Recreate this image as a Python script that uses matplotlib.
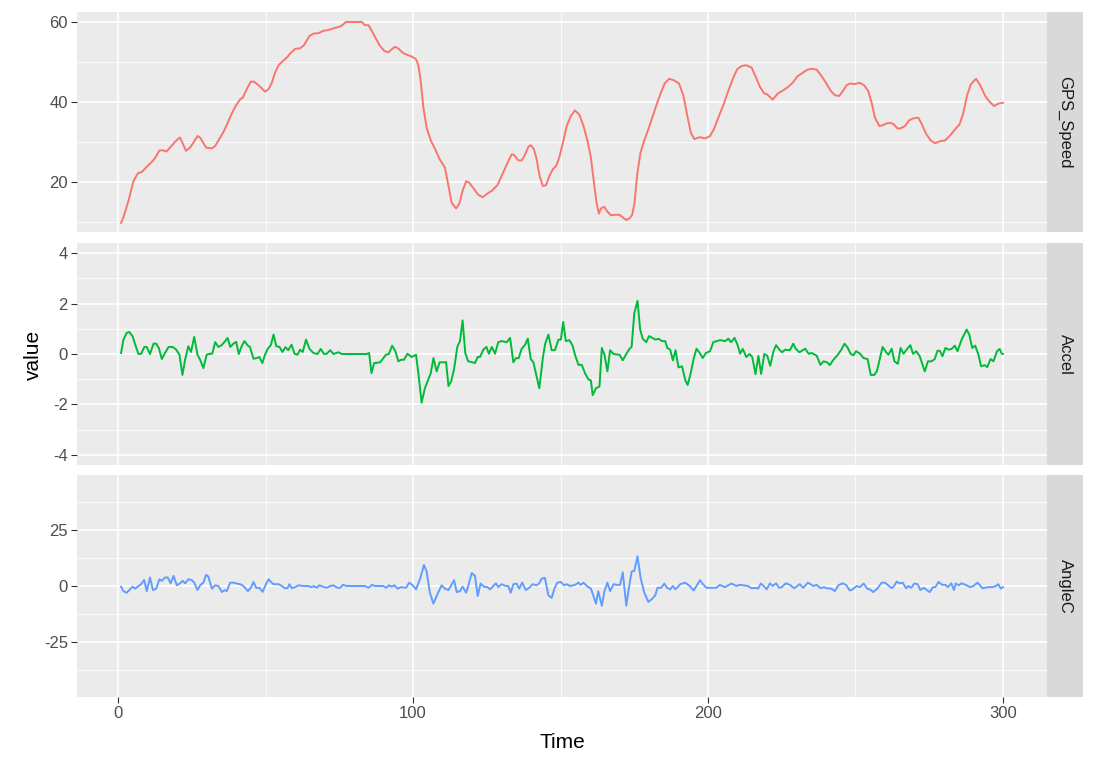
import matplotlib
matplotlib.use("Agg")
import matplotlib.pyplot as plt

# GPS_Speed readings (time, value)
gps_time = [1, 1.8, 3.5, 5.2, 6.7, 8, 9.7, 11.4, 12.5, 14, 15.4, 16.3, 17.6, 19, 20.5, 21,
            23, 24.4, 25.5, 26.9, 27.8, 29.8, 31.7, 32.9, 34.6, 35.9, 37.4, 38.5, 40, 41.4,
            42.3, 43.6, 45, 46.1, 47.9, 49.8, 51, 52.1, 53.2, 54.4, 55.8, 57.2, 58.3, 60,
            61.7, 63, 64.9, 66.2, 67.9, 69.6, 71.3, 73, 75.3, 76, 77.2, 82.6, 83.7, 84.9,
            86, 87.5, 88.8, 90.2, 91.6, 92.8, 93.9, 95, 96.5, 97.9, 99.5, 101, 101.8,
            102.6, 103.5, 104.6, 106, 107.5, 109, 110.8, 112, 113.1, 114.6, 115.7, 116.8,
            118, 119.1, 120.7, 122.1, 123.6, 125.2, 126.7, 128.6, 130, 131.8, 133.4, 134.2,
            135.7, 136.9, 138, 139.1, 139.9, 141, 141.9, 142.9, 144, 145.1, 146.2, 147.4,
            148.5, 149.6, 150.8, 152.1, 153.5, 154.9, 156.4, 157.8, 159.2, 160.3, 161.4,
            162.3, 163, 163.7, 164.8, 166, 167.1, 168.6, 170, 171.2, 172.3, 173.4, 174.3,
            175.1, 176, 177.1, 178.3, 179.6, 181.1, 182.6, 183.9, 185.3, 186.8, 188.5,
            190.2, 191.7, 193.1, 194.2, 195.4, 197.1, 199, 200.7, 202, 203.5, 205.2,
            206.9, 208.6, 209.9, 211.4, 212.9, 214.8, 216.3, 217.6, 219, 220.1, 221.9,
            223.8, 225.5, 227.2, 228.7, 230.3, 231.7, 233.7, 235.4, 236.8, 238.2, 240,
            241.6, 243, 244.5, 245.6, 247, 248.1, 249.8, 251.5, 252.9, 254.3, 255.5,
            256.6, 258.1, 259.4, 260.3, 261.9, 263, 264.2, 265.3, 266.8, 268.2, 269.6,
            271.3, 272.4, 273.9, 275.5, 277, 278.7, 280.4, 282.3, 283.8, 285.3, 286.6,
            287.8, 289.1, 290.9, 292.3, 294, 295.4, 297, 298.5, 300]
gps_value = [9.8, 11.2, 15.3, 20.2, 22.2, 22.5, 23.8, 25, 26, 27.9, 27.9, 27.6, 28.6, 29.8,
             30.9, 31.1, 27.8, 28.6, 29.8, 31.5, 31.1, 28.6, 28.4, 29, 31.1, 32.8, 35.2,
             37.1, 39.2, 40.7, 41.1, 43.2, 45.1, 45.1, 44, 42.6, 43.2, 44.8, 47.3, 49.2,
             50.2, 51.1, 52.1, 53.3, 53.4, 54.2, 56.5, 57.1, 57.2, 57.8, 58, 58.4, 58.9,
             59.2, 60, 60, 59.2, 59.2, 57.8, 55.7, 54, 52.8, 52.4, 53.2, 53.8, 53.4, 52.3,
             51.8, 51.4, 50.7, 49.2, 45.2, 38.6, 33.6, 30.4, 28.2, 25.7, 23.6, 19, 14.8,
             13.4, 14.6, 17.8, 20.2, 19.8, 18.2, 16.8, 16.2, 17.1, 17.8, 19.2, 21.5, 24.4,
             26.9, 26.8, 25.4, 25.4, 26.9, 28.8, 29.2, 28.2, 25.7, 21.5, 19, 19.2, 21.5,
             23.2, 24, 26.2, 29.8, 34, 36.5, 37.9, 36.8, 34, 30.1, 26.1, 19.4, 14.4, 12.1,
             13.4, 13.8, 12.5, 11.7, 11.8, 11.8, 11.1, 10.5, 10.9, 11.8, 14.8, 21.9, 27.3,
             30.2, 32.8, 36.1, 39.4, 42.1, 44.6, 45.8, 45.4, 44.6, 41.5, 36.1, 32.3, 30.7,
             31.2, 30.9, 31.5, 33.2, 36.1, 39.2, 42.8, 46.1, 48.2, 49, 49.2, 48.6, 46.1,
             43.8, 42.2, 41.9, 40.6, 42.2, 42.9, 43.8, 44.8, 46.4, 47.1, 48.1, 48.3, 48.1,
             46.8, 44.8, 42.8, 41.7, 41.5, 42.6, 44.2, 44.6, 44.5, 44.8, 44.2, 42.8, 39.8,
             36.1, 34, 34.2, 34.6, 34.8, 34.4, 33.4, 33.4, 34, 35.4, 35.9, 36.1, 34.6,
             32.1, 30.4, 29.7, 30.2, 30.4, 31.8, 33.2, 34.4, 37.3, 41.5, 44.4, 45.8, 44.2,
             41.5, 40.1, 39, 39.6, 39.8]

# Accel readings (time, value)
accel_time = [1, 1.8, 2.9, 3.8, 4.9, 5.8, 6.9, 7.8, 8.9, 9.7, 10.8, 12, 12.9, 13.8, 14.8,
              15.9, 17.1, 18.5, 19.7, 20.8, 21.8, 22.7, 23.8, 24.7, 25.8, 26.9, 27.8, 28.9,
              30, 31.2, 31.9, 32.9, 34, 35.1, 36.3, 37.1, 38, 39.1, 40, 40.9, 41.9, 42.8,
              44, 44.7, 45.9, 47, 47.9, 48.9, 49.8, 50.7, 51.8, 52.7, 53.6, 54.7, 55.7,
              56.7, 57.7, 58.8, 59.8, 60.8, 61.7, 62.6, 63.7, 64.9, 66.2, 67.6, 68.7, 69.8,
              70.7, 71.9, 73, 74.7, 75.8, 84.3, 85.1, 85.9, 86.8, 88.8, 89.7, 90.8, 91.8,
              92.9, 94, 95, 95.9, 96.9, 98.1, 99.5, 101, 101.8, 102.9, 104, 105.2, 106,
              106.9, 108, 109, 110.5, 111.2, 112, 112.9, 113.9, 115, 115.9, 116.8, 117.7,
              118.7, 119.9, 121, 121.9, 122.7, 123.8, 124.9, 125.7, 126.7, 127.8, 128.9,
              130, 131.8, 132.9, 134, 134.9, 135.8, 136.8, 138, 138.9, 139.9, 140.8, 141.9,
              142.8, 144, 144.8, 145.9, 147, 148.1, 149.3, 150.1, 150.9, 151.8, 153, 154.1,
              154.9, 156.1, 157.2, 158.3, 159.4, 160.3, 160.9, 162, 163.2, 164, 164.9,
              165.9, 166.8, 168, 170, 171.1, 172.5, 173.4, 174.1, 175, 176.1, 177, 177.9,
              179.1, 180, 181.1, 182.2, 183.3, 184.4, 185.5, 186.2, 187.2, 188.1, 189, 190,
              191.2, 192.3, 193.1, 194, 195.2, 196.1, 197.2, 198.2, 199.3, 200.7, 201.8,
              204.1, 205.8, 206.9, 207.8, 209, 210, 210.9, 211.8, 213, 214.1, 215, 216.1,
              217.1, 218, 219.1, 220.1, 221.1, 222.2, 223.1, 224.2, 225.1, 226.2, 227.8,
              228.9, 229.8, 231, 232.1, 233, 234.1, 235.2, 236.9, 238.1, 239.2, 240.4,
              241.3, 242.4, 244, 245.2, 246.3, 247.4, 248.4, 249.3, 250.2, 251.6, 252.7,
              254.1, 255.2, 256.4, 257.3, 259.2, 260.4, 261.2, 262.3, 263.2, 264.4, 265.3,
              266.3, 267.6, 268.6, 269.5, 270.6, 271.8, 273.5, 274.6, 275.8, 276.9, 277.8,
              278.6, 279.5, 280.5, 281.7, 282.6, 283.7, 284.6, 286, 287.7, 288.6, 289.6,
              290.6, 291.7, 292.6, 293.8, 294.7, 295.8, 296.8, 298, 298.9, 299.6, 300]
accel_value = [0.04, 0.57, 0.84, 0.87, 0.7, 0.37, 0, 0.01, 0.28, 0.28, 0, 0.41, 0.41, 0.24,
               -0.2, 0.04, 0.28, 0.28, 0.17, -0.03, -0.83, -0.23, 0.31, 0.08, 0.68, -0.03,
               -0.23, -0.56, -0.03, 0.01, 0.01, 0.47, 0.28, 0.35, 0.51, 0.64, 0.28, 0.41,
               0.48, 0, 0.31, 0.51, 0.33, 0.28, -0.19, -0.16, -0.12, -0.36, -0.03, 0.2,
               0.36, 0.77, 0.31, 0.28, 0.08, 0.27, 0.15, 0.37, 0.01, -0.03, 0.17, 0.08,
               0.57, 0.2, 0.04, 0, 0.2, 0, 0.01, 0.15, 0, 0.07, 0, 0, 0.04, -0.76, -0.36,
               -0.33, -0.2, -0.03, 0, 0.33, 0.11, -0.29, -0.23, -0.23, 0.01, -0.12, -0.03,
               -0.76, -1.93, -1.36, -1, -0.76, -0.16, -0.69, -0.33, -0.33, -0.32, -1.27,
               -1.09, -0.6, 0.28, 0.51, 1.33, 0.04, -0.29, -0.32, -0.36, -0.12, -0.12, 0.17,
               0.28, 0.01, 0.28, 0.01, 0.47, 0.51, 0.47, 0.64, -0.33, -0.16, -0.17, 0.2,
               0.37, 0.61, -0.2, -0.33, -0.89, -1.36, -0.16, 0.41, 0.77, 0.15, 0.15, 0.57,
               0.57, 1.27, 0.51, 0.55, 0.33, -0.03, -0.43, -0.43, -0.76, -1, -1.05, -1.63,
               -1.36, -1.29, 0.24, -0.03, -0.69, 0.15, 0, -0.03, -0.25, 0.04, 0.21, 0.28,
               1.61, 2.11, 0.97, 0.6, 0.47, 0.71, 0.64, 0.57, 0.6, 0.51, 0.51, 0.24, 0.17,
               -0.25, 0.15, -0.53, -0.49, -1.03, -1.23, -0.83, -0.16, 0.21, 0.04, -0.16,
               0.04, 0.11, 0.47, 0.55, 0.51, 0.61, 0.47, 0.64, 0.37, 0.01, 0.2, -0.12, 0,
               -0.12, -0.8, -0.07, -0.79, 0, -0.07, -0.47, 0.11, 0.35, 0.17, 0.07, 0.17,
               0.15, 0.41, 0.2, 0.07, 0.15, 0.21, 0.01, 0.04, -0.07, -0.43, -0.29, -0.33,
               -0.44, -0.25, -0.03, 0.17, 0.41, 0.24, 0, -0.05, 0.11, 0.01, -0.16, -0.2,
               -0.83, -0.83, -0.67, 0.28, 0.07, -0.03, 0.21, -0.29, -0.39, 0.24, 0.01, 0.21,
               0.35, 0.01, 0.11, -0.09, -0.69, -0.29, -0.29, -0.2, 0.13, 0.13, -0.09, 0.24,
               0.17, 0.2, 0.33, 0.11, 0.57, 0.97, 0.77, 0.24, 0.33, -0.03, -0.49, -0.44,
               -0.52, -0.2, -0.29, 0.11, 0.2, 0.01, 0]

# AngleC readings (time, value)
angle_time = [1, 1.8, 2.9, 3.8, 4.9, 5.8, 6.9, 7.8, 8.8, 9.7, 10.8, 11.8, 12.9, 14, 14.8,
              15.9, 16.8, 17.8, 18.8, 19.9, 21, 21.9, 22.7, 23.8, 24.9, 25.8, 26.9, 27.8,
              28.9, 29.8, 30.6, 31.8, 32.9, 34, 35.2, 36.1, 36.8, 38, 39.1, 40.2, 41.4,
              42.5, 44, 45, 45.9, 46.8, 47.9, 49, 50.1, 51, 51.8, 52.7, 54.4, 55.5, 56.6,
              57.4, 58.1, 58.9, 60, 61.1, 62.8, 64.5, 65.6, 66.4, 67.3, 68.2, 69.6, 70.7,
              71.9, 73, 74.4, 75.3, 76.2, 77.5, 83.7, 84.9, 86, 87.1, 89.9, 90.8, 91.8,
              92.8, 93.7, 94.8, 95.9, 97.6, 98.7, 99.9, 101, 102.4, 103.7, 104.6, 105.7,
              106.9, 108.2, 109.7, 110.8, 112, 112.8, 113.9, 114.8, 115.9, 116.8, 118,
              118.7, 119.9, 121, 121.9, 122.9, 124.1, 125.2, 126.1, 127.2, 128.1, 128.9,
              130, 131.5, 132.3, 133.1, 134, 135.1, 136, 137, 138.2, 139.4, 140.5, 141.9,
              142.8, 143.6, 144.7, 145.9, 147, 147.9, 148.9, 150.1, 151.2, 152.1, 153.2,
              154.9, 156.1, 156.8, 157.8, 158.9, 160.3, 161.1, 162, 162.8, 164, 164.9,
              165.9, 166.8, 168, 169.1, 170.2, 171.1, 172.3, 173.1, 174.1, 175, 176.1,
              177.2, 178.4, 179.8, 181, 182.1, 182.9, 184.1, 185.2, 186.1, 187.2, 188.1,
              189, 190.6, 192.3, 193.8, 195.1, 196.1, 197.3, 198.3, 199.5, 202.8, 204,
              205.7, 208, 209.6, 210.8, 213.6, 214.7, 216.4, 217, 217.9, 218.9, 219.9, 221,
              221.9, 223.1, 224.1, 225, 226.4, 227.8, 229.2, 231.1, 232.3, 233.9, 235.7,
              236.8, 238.2, 239.3, 240.2, 241.9, 243, 244.2, 245.6, 246.8, 248.1, 249,
              250.4, 251.5, 252.8, 254, 254.9, 256, 257.4, 258.9, 260, 261.1, 262.3, 263.1,
              264, 264.9, 266, 267.2, 268, 268.9, 270, 271.1, 272, 273.1, 275.2, 276.3,
              277.1, 278.2, 279.4, 280.5, 281.3, 282.5, 283.4, 284, 285.1, 285.9, 287.4,
              288.9, 290, 291.4, 293.1, 295, 296.5, 297.6, 298.4, 299.3, 300]
angle_value = [-0.3, -2.3, -3, -1.8, -0.3, -1.2, 0, 0.8, 2.7, -2.3, 3.8, -1.8, -1.2, 3,
               2.3, 3.8, 3.8, 1.2, 4.5, 0.3, 1.2, 2.3, 1.2, 3, 2.7, 1.5, -1.8, 0.3, 1.5, 5,
               4.2, -1.2, 0.3, 0, -2.7, -1.8, -2.3, 1.5, 1.5, 1.1, 0.8, 0, -2.3, -0.8, 1.8,
               -0.8, -0.8, -2.6, 0.8, 3, 1.8, 0.8, 0.8, 0, -1, -1, 0.8, -1, -0.5, 0.3, 0, 0,
               -0.5, 0, -0.8, 0.3, -0.3, -0.8, 0, 0.3, -0.8, -0.8, 0.5, 0, 0, -0.8, 0.5, 0,
               0, -0.8, 0.3, -0.3, 0.3, -1.2, -0.5, -0.8, 1.5, 0.3, -1.5, 3.3, 9.4, 6.4, -3,
               -7.9, -3.8, 0.3, -1.2, -1.8, 0, 2.6, -2.7, -2.3, -0.3, -3, 0, 5.8, 4.5, -4.5,
               1.1, -0.3, -0.5, -1.5, 0, 1.2, -0.5, 0.8, 0, 0, -3, 0.8, 1.1, -1.2, 1.5,
               -1.8, -0.8, 0.8, 0.3, 1.2, 3.3, 3.6, -4.2, -5.3, -1.2, 1.5, 1.8, 0.3, 0.8, 0,
               0.5, 1.5, 0.5, 1.5, 0, -1.2, -4.2, -7.9, -2.3, -8.8, -2.3, 1.5, -2.3, 0.8,
               0.5, 0.5, 6.1, -8.8, -1.5, 6.4, 6.7, 13.2, 3.3, -3, -7.1, -5.8, -4.2, -0.8,
               -0.8, 1.1, -0.8, -1.5, 0, -1.5, 0.8, 1.5, 0, -2, 0, 2.6, 0.8, -0.8, -0.8, 0.5,
               -0.5, 1.1, 0, 0.5, 0, -1, -0.8, -1.2, 1.1, 0, -1.5, 1.2, 0, 1.2, -0.8, -0.5,
               1.2, 0.5, -1, 0.8, -0.8, 1.5, 0, 0.5, -1, -0.5, -1, -1.2, -2.3, 0.3, 1.2, 0.5,
               -2, -1.5, 0, -0.5, 1.1, -1.2, -1.5, -2.7, -1.2, 1.5, 1.5, 0.3, -1, 0, 2, 1.2,
               1.5, -1, 0, -0.8, 1.1, 0.8, -1.8, -0.8, -2.7, -0.5, -0.5, 1.8, 0.5, 0.5, -0.5,
               1.2, -1.8, 1.1, 0.3, 1.2, 0.5, -0.5, 0, 1.5, -1, -0.5, -0.5, 0, 0.8, -1.2,
               -0.5]

facet_names = ["GPS_Speed", "Accel", "AngleC"]
facet_colors = ["#F8766D", "#00BA38", "#619CFF"]
x_ticks = [0, 100, 200, 300]
y_ticks = [[20, 40, 60], [-4, -2, 0, 2, 4], [-25, 0, 25]]
y_minor = [[10, 30, 50], [-3, -1, 1, 3], [-37.5, -12.5, 12.5, 37.5]]
y_limits = [(7.5, 62.5), (-4.4, 4.4), (-49.5, 49.5)]

W, H = 1095, 766
plt.rcParams['font.family'] = ['Liberation Sans', 'DejaVu Sans']
plt.rcParams['axes.unicode_minus'] = False
fig = plt.figure(figsize=(W / 100, H / 100), dpi=100)

left, right = 77, 1047
strip_right = 1083
panels = [(12, 232), (243, 465), (475, 697)]
series = [(gps_time, gps_value), (accel_time, accel_value), (angle_time, angle_value)]

for i, ((top, bottom), (t, v)) in enumerate(zip(panels, series)):
    ax = fig.add_axes([left / W, (H - bottom) / H, (right - left) / W, (bottom - top) / H])
    ax.set_facecolor("#EBEBEB")
    for s in ax.spines.values():
        s.set_visible(False)
    ax.set_xlim(1 - 0.05 * 299, 300 + 0.05 * 299)
    ax.set_ylim(*y_limits[i])
    ax.set_xticks(x_ticks)
    ax.set_xticks([50, 150, 250], minor=True)
    ax.set_yticks(y_ticks[i])
    ax.set_yticks(y_minor[i], minor=True)
    ax.grid(True, which="major", color="white", linewidth=1.2)
    ax.grid(True, which="minor", color="white", linewidth=0.6)
    ax.set_axisbelow(True)
    ax.tick_params(which="minor", length=0)
    ax.tick_params(which="major", length=4, width=0.8, color="#333333",
                   labelcolor="#4D4D4D", labelsize=12, pad=2.5)
    if i < 2:
        ax.tick_params(axis="x", which="major", length=0, labelbottom=False)
    ax.plot(t, v, color=facet_colors[i], linewidth=1.4)

    sax = fig.add_axes([right / W, (H - bottom) / H, (strip_right - right) / W, (bottom - top) / H])
    sax.set_facecolor("#D9D9D9")
    sax.set_xticks([])
    sax.set_yticks([])
    for s in sax.spines.values():
        s.set_visible(False)
    sax.text(0.5, 0.5, facet_names[i], rotation=-90, ha="center", va="center",
             color="#1A1A1A", fontsize=12, transform=sax.transAxes)

fig.text((left + right) / 2 / W, 1 - 742 / H, "Time", ha="center", va="center", fontsize=15)
fig.text(33 / W, 1 - 355 / H, "value", ha="center", va="center", rotation=90, fontsize=15)

fig.savefig("out.png", dpi=100)
